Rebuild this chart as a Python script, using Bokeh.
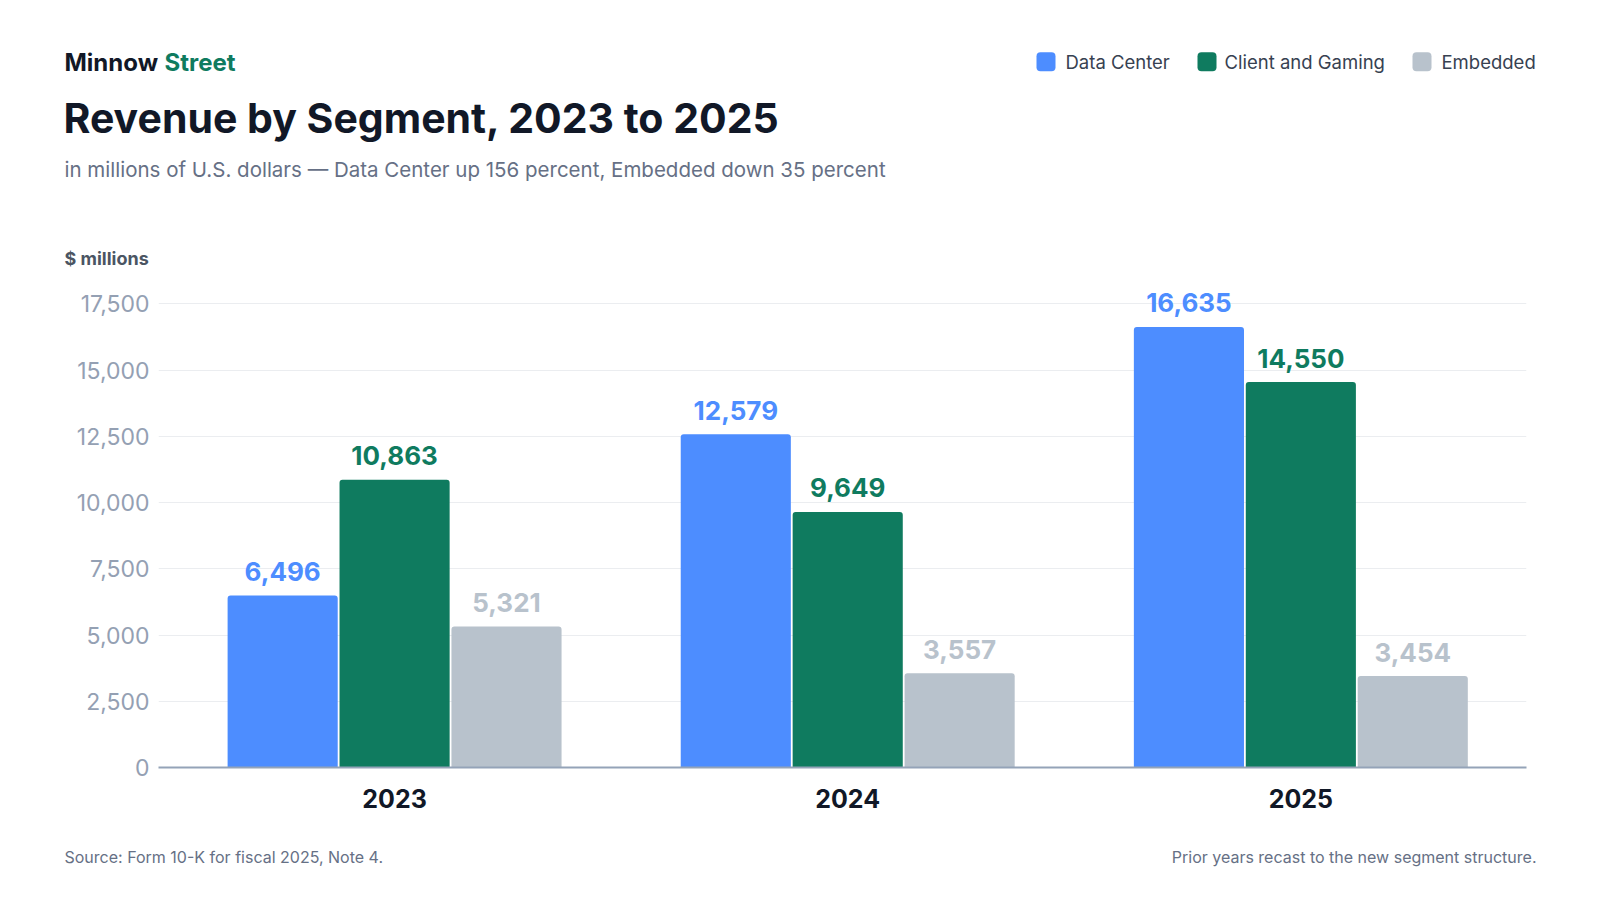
from bokeh.plotting import figure
from bokeh.layouts import column
from bokeh.models import ColumnDataSource, FixedTicker, NumeralTickFormatter, Range1d
from bokeh.core.properties import value
from bokeh.embed import file_html
from bokeh.resources import INLINE

# ---------------- data ----------------
years = ["2023", "2024", "2025"]
segments = ["Data Center", "Client and Gaming", "Embedded"]
data_center = [6496, 12579, 16635]
client_gaming = [10863, 9649, 14550]
embedded = [5321, 3557, 3454]
y_ticks = [0, 2500, 5000, 7500, 10000, 12500, 15000, 17500]

brand_a = "Minnow"
brand_b = "Street"
title_text = "Revenue by Segment, 2023 to 2025"
subtitle_text = "in millions of U.S. dollars \u2014 Data Center up 156 percent, Embedded down 35 percent"
unit_text = "$ millions"
source_text = "Source: Form 10-K for fiscal 2025, Note 4."
note_text = "Prior years recast to the new segment structure."

# ---------------- style / layout ----------------
FONT = "Inter"
colors = ["#4D8DFF", "#0F7B5F", "#B8C2CC"]
INK = "#111827"
SUB = "#667085"
TICK = "#94A0B3"
W = 1584
HEAD_H = 277
MAIN_H = 553
FOOT_H = 54


def blank(height):
    f = figure(width=W, height=height, output_backend="svg", toolbar_location=None,
               x_range=Range1d(0, W), y_range=Range1d(height, 0),
               x_axis_location=None, y_axis_location=None, min_border=0,
               frame_align=False)
    f.grid.visible = False
    f.outline_line_color = None
    f.background_fill_color = "white"
    f.border_fill_color = "white"
    return f


def put(f, text, x, y, size, color, style="normal", align="left"):
    f.text(x=[x], y=[y], text=[text], text_font=value(FONT), text_font_size=size,
           text_font_style=style, text_color=color, text_align=align,
           text_baseline="middle")


# ---------------- header ----------------
head = blank(HEAD_H)
put(head, brand_a, 64, 62, "24px", INK, "bold")
put(head, brand_b, 164, 62, "24px", colors[1], "bold")
put(head, title_text, 63, 117.5, "41px", INK, "bold")
put(head, subtitle_text, 64, 168.5, "20.5px", SUB)
put(head, unit_text, 64, 257.5, "18px", "#4B5563", "bold")

legend_sq = [1036, 1197, 1412]
legend_tx = [1065, 1224, 1441]
for name, col, sqx, tx in zip(segments, colors, legend_sq, legend_tx):
    head.quad(left=[sqx], right=[sqx + 19], top=[51.7], bottom=[70.7],
              fill_color=col, line_color=None, border_radius=4)
    put(head, name, tx, 61, "18.5px", "#374151")

# ---------------- main chart ----------------
p = figure(width=W, height=MAIN_H, output_backend="svg", toolbar_location=None,
           x_range=Range1d(-0.521, 2.498), y_range=Range1d(0, 18500),
           min_border_left=158, min_border_right=58,
           min_border_top=0, min_border_bottom=MAIN_H - 490,
           frame_align=False)
p.outline_line_color = None
p.background_fill_color = "white"
p.border_fill_color = "white"

series = [data_center, client_gaming, embedded]
offsets = [-0.247, 0.0, 0.247]
for name, vals, col, off in zip(segments, series, colors, offsets):
    src = ColumnDataSource(dict(
        x=[i + off for i in range(len(years))],
        top=vals,
        label=[f"{v:,}" for v in vals],
    ))
    p.vbar(x="x", top="top", bottom=0, width=0.243, source=src,
           fill_color=col, line_color=None, border_radius=(3, 3, 0, 0))
    p.text(x="x", y="top", text="label", source=src,
           text_align="center", text_baseline="alphabetic", y_offset=-24,
           text_font=value(FONT), text_font_style="bold",
           text_font_size="26px", text_color=col)

p.xaxis.ticker = FixedTicker(ticks=list(range(len(years))))
p.xaxis.major_label_overrides = {i: y for i, y in enumerate(years)}
p.xaxis.axis_line_color = "#94A3B8"
p.xaxis.axis_line_width = 2
p.xaxis.major_tick_line_color = None
p.xaxis.minor_tick_line_color = None
p.xaxis.major_tick_out = 0
p.xaxis.major_tick_in = 0
p.xaxis.major_label_standoff = 21
p.xaxis.major_label_text_font = FONT
p.xaxis.major_label_text_font_style = "bold"
p.xaxis.major_label_text_font_size = "25px"
p.xaxis.major_label_text_color = INK

p.yaxis.ticker = FixedTicker(ticks=y_ticks)
p.yaxis.formatter = NumeralTickFormatter(format="0,0")
p.yaxis.axis_line_color = None
p.yaxis.major_tick_line_color = None
p.yaxis.minor_tick_line_color = None
p.yaxis.major_tick_out = 0
p.yaxis.major_tick_in = 0
p.yaxis.major_label_standoff = 9
p.yaxis.major_label_text_font = FONT
p.yaxis.major_label_text_font_size = "23px"
p.yaxis.major_label_text_color = TICK

p.xgrid.grid_line_color = None
p.ygrid.ticker = FixedTicker(ticks=y_ticks)
p.ygrid.grid_line_color = "#EBEDF0"
p.ygrid.grid_line_width = 1

# ---------------- footer ----------------
foot = blank(FOOT_H)
put(foot, source_text, 64, 26.4, "16px", SUB)
put(foot, note_text, 1536, 26.4, "16px", SUB, align="right")

page = column(head, p, foot, spacing=0)
open("out.html", "w").write(file_html(page, INLINE))
